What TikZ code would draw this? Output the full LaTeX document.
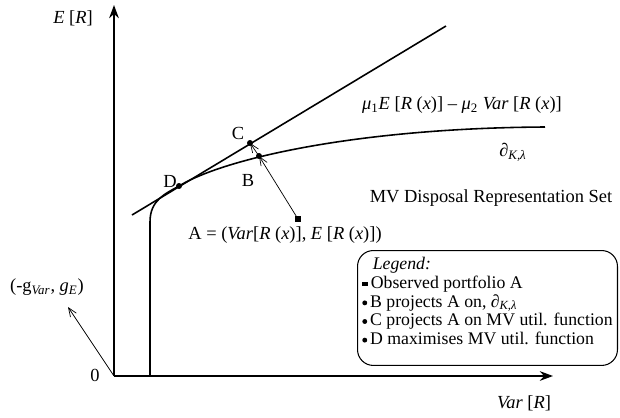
\documentclass[tikz,border=0pt]{standalone}
\usepackage{fontspec}
\setmainfont{Liberation Serif}
\usepackage{tikz}
\usetikzlibrary{arrows.meta}

\newcommand{\lgsq}{\raisebox{0.25ex}{\rule{3.2pt}{2.8pt}}\,}
\newcommand{\lgdot}{\raisebox{0.22ex}{\tikz\fill (0,0) circle (1.4pt);}\,}
\newcommand{\legendfont}{\fontsize{10.1}{10.6}\selectfont\setlength{\lineskiplimit}{-6pt}}

\begin{document}
\begin{tikzpicture}[x=0.02cm, y=-0.02cm, >={Stealth[length=7.5pt,width=5.5pt]},
    axis/.style={line width=1.1pt, ->},
    curve/.style={line width=0.9pt},
    proj/.style={line width=0.4pt, -{Straight Barb[length=5pt,width=4pt]}},
    dot/.style={circle, fill, inner sep=0pt, minimum size=3.4pt},
    sqdot/.style={rectangle, fill, inner sep=0pt, minimum size=3pt},
    lbl/.style={font=\fontsize{10.5}{12}\selectfont, inner sep=1pt}]
            \useasboundingbox (0,0) rectangle (620,417);
            % Coordinates
            \coordinate (O) at (114,376);
            \coordinate (Ytop) at (114,5);
            \coordinate (Xend) at (553,376);
            \coordinate (K0) at (150,376);
            \coordinate (K1) at (150,222);
            \coordinate (D) at (179,186);
            \coordinate (Kend) at (545,127);
            \coordinate (T0) at (132,215);
            \coordinate (T1) at (446,26);
            \coordinate (C) at (250,143);
            \coordinate (B) at (259,156);
            \coordinate (A) at (298,219);
            \coordinate (G) at (68,307);
            
            % Axes
            \draw[axis] (O) -- (Ytop);
            \draw[axis] (O) -- (Xend);
            
            % Frontier and tangent utility line
            \draw[curve] (K0) -- (K1) .. controls (150,200) and (165,194) .. (D)
                .. controls (225,158) and (360,128) .. (Kend);
            \draw[curve] (T0) -- (T1);
            
            % Projections
            \draw[proj] (A) -- (B);
            \draw[proj] (B) -- (C);
            \draw[proj] (O) -- (G);
            
            % Points
            \node[dot] (pC) at (C) {};
            \node[dot] (pB) at (B) {};
            \node[dot] (pD) at (D) {};
            \node[sqdot] (pA) at (A) {};
            
            % Labels
            \node[lbl] (lE) at (73,18) {\textit{E} [\textit{R}]};
            \node[lbl] (lVar) at (524,403) {\textit{Var} [\textit{R}]};
            \node[lbl] (lO) at (95,375) {0};
            \node[lbl] (lC) at (238,133) {C};
            \node[lbl] (lB) at (248,180) {B};
            \node[lbl] (lD) at (170,181) {D};
            \node[lbl] (lU) at (462,105) {\textit{μ}\textsubscript{1}\textit{E} [\textit{R} (\textit{x})] – \textit{μ}\textsubscript{2} \textit{Var} [\textit{R} (\textit{x})]};
            \node[lbl] (lK) at (513,152) {∂\textsubscript{\textit{K,λ}}};
            \node[lbl] (lSet) at (491,198) {MV Disposal Representation Set};
            \node[lbl] (lA) at (285,235) {A = (\textit{Var}[\textit{R} (\textit{x})], \textit{E} [\textit{R} (\textit{x})])};
            \node[lbl] (lG) at (47,287) {(-g\textsubscript{\textit{Var}}, \textit{g}\textsubscript{\textit{E}})};
            
            % Legend
            \node[lbl, font=\legendfont,
                draw, line width=0.6pt, rounded corners=9pt, anchor=north west,
                minimum width=5.2cm, align=left, inner xsep=2.5pt, inner ysep=4pt]
                (legend) at (357,250)
                {\hspace{6pt}\textit{Legend:}\\
                 \lgsq Observed portfolio A\\
                 \lgdot B projects A on, ∂\textsubscript{\textit{K,λ}}\\
                 \lgdot C projects A on MV util. function\\
                 \lgdot D maximises MV util. function\rule[-8pt]{0pt}{0pt}};
        \end{tikzpicture}
\end{document}
